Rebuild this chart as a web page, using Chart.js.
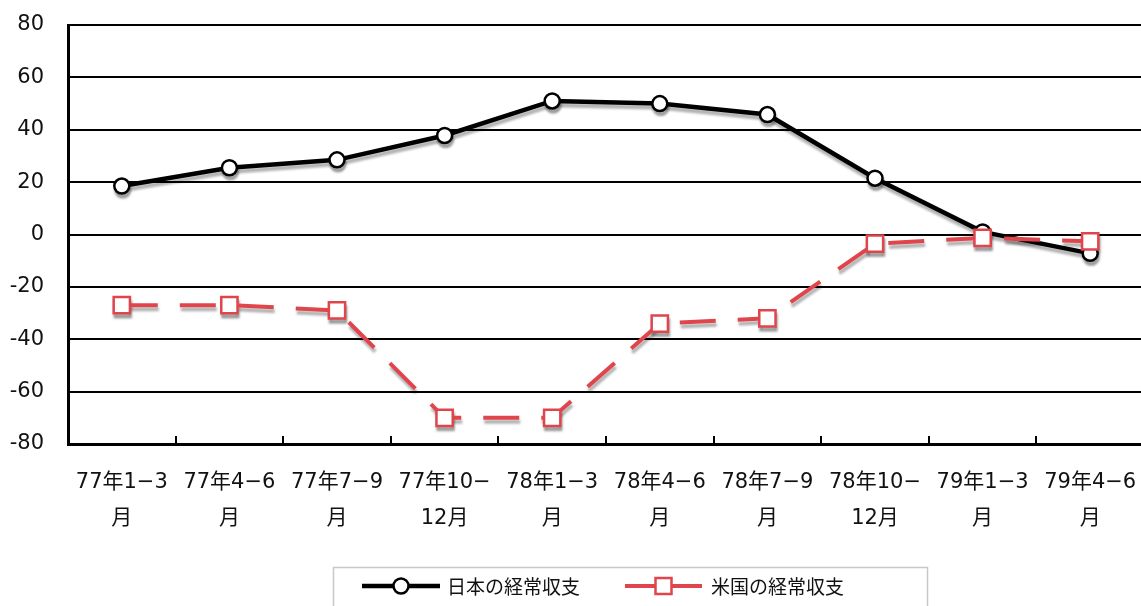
<!DOCTYPE html>
<html lang="ja">
<head>
<meta charset="utf-8">
<title>日米の経常収支</title>
<script src="https://cdn.jsdelivr.net/npm/chart.js@4.4.1/dist/chart.umd.min.js"></script>
<style>
  html, body { margin: 0; padding: 0; background: #fff; overflow: hidden; }
  #wrap { position: relative; width: 1146px; height: 606px; }
  canvas { display: block; }
</style>
</head>
<body>
<div id="wrap"><canvas id="c" width="1146" height="606"></canvas></div>
<script>
// 四半期ラベル（2行表示）
const quarters = [
  ['77年1−3', '月'], ['77年4−6', '月'], ['77年7−9', '月'], ['77年10−', '12月'],
  ['78年1−3', '月'], ['78年4−6', '月'], ['78年7−9', '月'], ['78年10−', '12月'],
  ['79年1−3', '月'], ['79年4−6', '月']
];
// 経常収支（億ドル）
const japanBalance = [18.5, 25.5, 28.5, 37.8, 51, 50, 45.8, 21.5, 1, -7.2];
const usBalance    = [-27, -27, -29, -70, -70, -34, -32, -3.5, -1.3, -2.6];
const seriesNames  = ['日本の経常収支', '米国の経常収支'];
const yTicks = [80, 60, 40, 20, 0, -20, -40, -60, -80];

const RED = '#e0454c';
const SHADOW = 'rgba(0,0,0,0.3)';
const JP_FONT = '"Noto Sans CJK JP", "Noto Sans", sans-serif';
const AXIS_FONT = '"DejaVu Sans", "Noto Sans CJK JP", sans-serif';

// 影用データセットは少しずらしてぼかして描く
const shadowOffset = {
  id: 'shadowOffset',
  beforeDatasetDraw(chart, args) {
    const ds = chart.data.datasets[args.index];
    if (!ds.isShadow) return;
    const ctx = chart.ctx;
    ctx.save();
    ctx.translate(1, 4);
    ctx.filter = 'blur(1.2px)';
  },
  afterDatasetDraw(chart, args) {
    const ds = chart.data.datasets[args.index];
    if (ds.isShadow) chart.ctx.restore();
  }
};

// X軸の内向き目盛り（区間の境目）
const xTickMarks = {
  id: 'xTickMarks',
  afterDatasetsDraw(chart) {
    const x = chart.scales.x, ctx = chart.ctx;
    const bottom = chart.chartArea.bottom;
    const half = (x.getPixelForValue(1) - x.getPixelForValue(0)) / 2;
    ctx.save();
    ctx.strokeStyle = '#000';
    ctx.lineWidth = 2;
    for (let i = 0; i < quarters.length - 1; i++) {
      const px = Math.round(x.getPixelForValue(i) + half);
      ctx.beginPath();
      ctx.moveTo(px, bottom);
      ctx.lineTo(px, bottom - 8);
      ctx.stroke();
    }
    ctx.restore();
  }
};

// 線＋マーカー形式の凡例
const lineLegend = {
  id: 'lineLegend',
  afterDraw(chart) {
    const ctx = chart.ctx;
    ctx.save();
    ctx.strokeStyle = '#c8c8c8';
    ctx.lineWidth = 1.5;
    ctx.strokeRect(333.5, 567.5, 594, 50);
    const cy = 586;
    const main = chart.data.datasets.filter(d => !d.isShadow);
    const items = [
      { x0: 362, x1: 440, ds: main[0], tx: 447 },
      { x0: 625, x1: 702, ds: main[1], tx: 711 }
    ];
    items.forEach(it => {
      const ds = it.ds;
      ctx.strokeStyle = ds.borderColor;
      ctx.lineWidth = ds.borderWidth;
      ctx.setLineDash([]);
      ctx.beginPath();
      ctx.moveTo(it.x0, cy);
      ctx.lineTo(it.x1, cy);
      ctx.stroke();
      const mx = (it.x0 + it.x1) / 2;
      ctx.fillStyle = '#fff';
      ctx.strokeStyle = ds.pointBorderColor;
      ctx.lineWidth = ds.pointBorderWidth;
      ctx.beginPath();
      if (ds.pointStyle === 'rect') {
        ctx.rect(mx - 8, cy - 8, 16, 16);
      } else {
        ctx.arc(mx, cy, 7.5, 0, Math.PI * 2);
      }
      ctx.fill();
      ctx.stroke();
      ctx.fillStyle = '#111';
      ctx.font = '19px ' + JP_FONT;
      ctx.textBaseline = 'middle';
      ctx.textAlign = 'left';
      ctx.fillText(ds.label, it.tx, cy + 1);
    });
    ctx.restore();
  }
};

const japanStyle = {
  borderWidth: 4.5, pointStyle: 'circle', pointRadius: 7.5, pointBorderWidth: 2.5, tension: 0
};
const usStyle = {
  borderWidth: 4, borderDash: [36, 22], pointStyle: 'rect', pointRadius: 11.5, pointBorderWidth: 2.5, tension: 0
};

new Chart(document.getElementById('c'), {
  type: 'line',
  data: {
    labels: quarters,
    datasets: [
      Object.assign({
        label: seriesNames[0],
        data: japanBalance,
        borderColor: '#000',
        pointBackgroundColor: '#fff',
        pointBorderColor: '#000',
        order: 1
      }, japanStyle),
      Object.assign({
        label: seriesNames[1],
        data: usBalance,
        borderColor: RED,
        pointBackgroundColor: '#fff',
        pointBorderColor: RED,
        order: 0
      }, usStyle),
      Object.assign({
        label: seriesNames[0],
        data: japanBalance,
        isShadow: true,
        borderColor: SHADOW,
        pointBackgroundColor: SHADOW,
        pointBorderColor: SHADOW,
        order: 10
      }, japanStyle),
      Object.assign({
        label: seriesNames[1],
        data: usBalance,
        isShadow: true,
        borderColor: SHADOW,
        pointBackgroundColor: SHADOW,
        pointBorderColor: SHADOW,
        order: 11
      }, usStyle)
    ]
  },
  options: {
    responsive: false,
    animation: false,
    layout: { autoPadding: false, padding: { top: 25, right: 2, bottom: 0, left: 0 } },
    plugins: { legend: { display: false }, tooltip: { enabled: false } },
    scales: {
      x: {
        offset: true,
        grid: { display: false, offset: true, drawTicks: false },
        border: { display: true, color: '#000', width: 3 },
        ticks: {
          color: '#111',
          padding: 20,
          maxRotation: 0,
          autoSkip: false,
          font: { family: AXIS_FONT, size: 21, lineHeight: 1.72 }
        },
        afterFit(s) {
          s.height = 162;
          s.paddingLeft = 0;
          s.paddingRight = 0;
        }
      },
      y: {
        min: -80,
        max: 80,
        afterBuildTicks(s) { s.ticks = yTicks.map(v => ({ value: v })); },
        grid: { color: '#000', lineWidth: 2, drawTicks: false },
        border: { display: true, color: '#000', width: 3 },
        ticks: {
          color: '#111',
          padding: 24,
          font: { family: AXIS_FONT, size: 21 }
        },
        afterFit(s) {
          s.width = 68;
          s.paddingTop = 10;
          s.paddingBottom = 10;
        }
      }
    }
  },
  plugins: [shadowOffset, xTickMarks, lineLegend]
});
</script>
</body>
</html>
